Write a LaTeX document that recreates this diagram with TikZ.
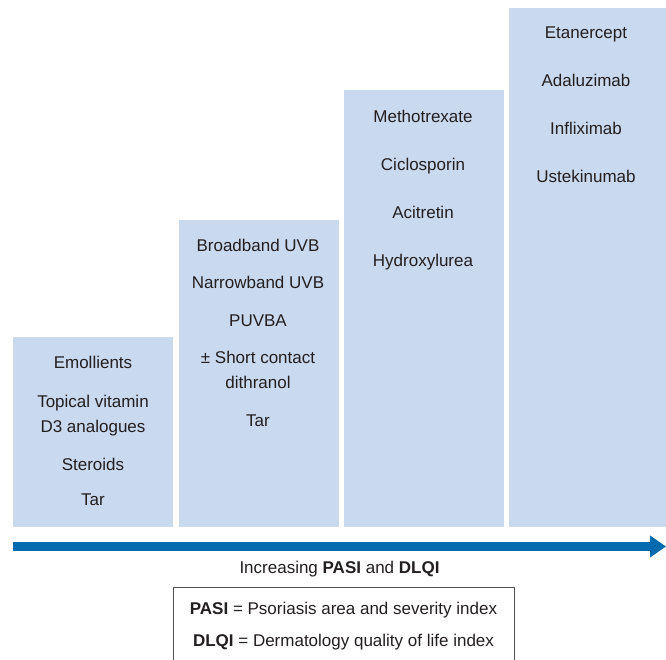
\documentclass[tikz,border=0pt]{standalone}
\usepackage{fontspec}
\setmainfont{Liberation Sans}
\usetikzlibrary{arrows.meta,positioning}
\definecolor{paleblue}{HTML}{C9D9EE}
\definecolor{deepblue}{HTML}{006AAE}
\definecolor{ink}{HTML}{231F20}
\definecolor{rule}{HTML}{505050}
\tikzset{bar/.style={fill=paleblue,inner sep=0pt,minimum width=160pt,anchor=south west},item/.style={text=ink,font=\fontsize{17}{20}\selectfont,inner sep=0pt,anchor=base},axis/.style={-{Triangle[length=16pt,width=21pt]},line width=9pt,deepblue},legend/.style={draw=rule,line width=0.8pt,text=ink,align=center,minimum width=341pt,inner xsep=0pt,inner ysep=15pt,font=\fontsize{17}{32}\selectfont}}
\begin{document}
\begin{tikzpicture}[x=1pt,y=-1pt]
\useasboundingbox (0,0) rectangle (666,659);
% treatment steps
\node[bar,minimum height=190pt] (b1) at (13,527) {};
\node[bar,minimum height=307pt] (b2) at ([xshift=5pt]b1.south east) {};
\node[bar,minimum height=437pt] (b3) at ([xshift=5pt]b2.south east) {};
\node[bar,minimum height=519pt] (b4) at ([xshift=5pt]b3.south east) {};
\foreach \txt/\y [count=\i] in {Emollients/368,Topical vitamin/407,D3 analogues/432,Steroids/470,Tar/505}
  \node[item] (t1-\i) at (93,\y) {\txt};
\foreach \txt/\y [count=\i] in {Broadband UVB/251,Narrowband UVB/288,PUVBA/326,± Short contact/363,dithranol/388,Tar/426}
  \node[item] (t2-\i) at (258,\y) {\txt};
\foreach \txt/\y [count=\i] in {Methotrexate/122,Ciclosporin/170,Acitretin/218,Hydroxylurea/266}
  \node[item] (t3-\i) at (423,\y) {\txt};
\foreach \txt/\y [count=\i] in {Etanercept/38,Adaluzimab/86,Infliximab/134,Ustekinumab/182}
  \node[item] (t4-\i) at (586,\y) {\txt};
% severity axis
\coordinate (axis start) at (13,546.5);
\coordinate (axis end) at (666,546.5);
\draw[axis] (axis start) -- (axis end);
\node[item] (axis label) at (339.5,573) {Increasing \textbf{PASI} and \textbf{DLQI}};
\node[legend,anchor=north] (key) at (343.5,587) {\textbf{PASI} = Psoriasis area and severity index\\\textbf{DLQI} = Dermatology quality of life index};
\end{tikzpicture}
\end{document}
